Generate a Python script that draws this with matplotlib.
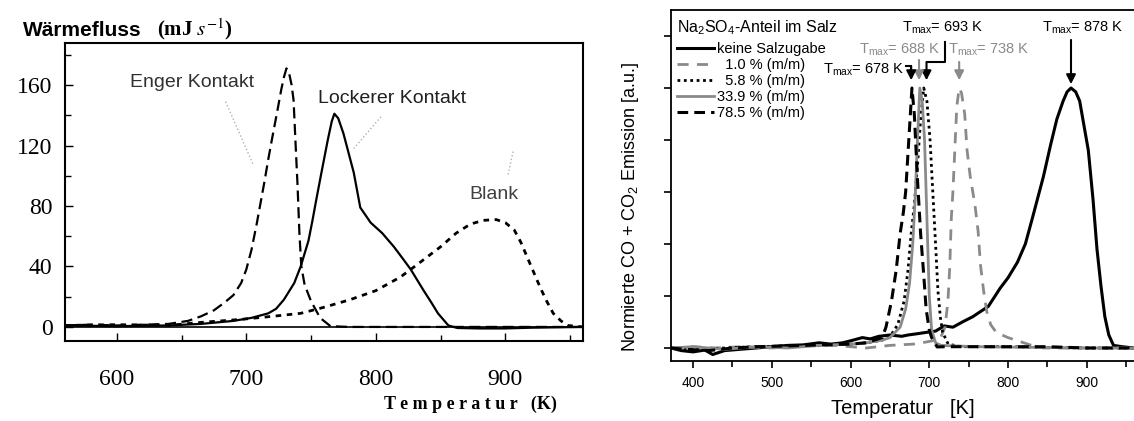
import numpy as np
import matplotlib
matplotlib.use("Agg")
import matplotlib.pyplot as plt
from matplotlib.ticker import MultipleLocator

plt.rcParams['font.family'] = ['Liberation Sans', 'DejaVu Sans']
plt.rcParams['mathtext.fontset'] = 'custom'
plt.rcParams['mathtext.rm'] = 'Liberation Sans'
plt.rcParams['mathtext.it'] = 'Liberation Sans:italic'
plt.rcParams['mathtext.bf'] = 'Liberation Sans:bold'

# ---- linkes Diagramm: Waermefluss (DSC) ----
enger_T = [560, 580, 600, 620, 640, 655, 665, 675, 683, 690, 696, 700, 704, 708, 711, 714,
           717, 720, 724, 727, 729, 731, 733, 735, 736.5, 738, 739.5, 741, 742.5, 745, 750, 757, 765, 780, 960]
enger_v = [1, 1.5, 1, 1.5, 2, 4, 7, 11, 16, 21, 29, 38, 51, 68, 82, 96,
           111, 125, 143, 157, 165, 171, 168, 160, 150, 122, 95, 62, 40, 28, 17, 6, 0.5, 0, 0]

locker_T = [560, 600, 640, 665, 690, 704, 717, 723, 729, 737, 742, 748, 751, 754, 758, 763, 766, 768,
            771, 775, 779, 783, 788, 796, 805, 814, 821, 827, 837, 843, 848, 853, 856, 863, 880, 900, 920, 960]
locker_v = [1, 0.5, 1, 2, 4, 6, 9, 12, 18, 29, 40, 57, 70, 84, 102, 124, 136, 141,
            138, 128, 115, 102, 79, 69, 62, 53, 45, 38, 24, 16, 9, 4, 1, -0.7, -1, -1, -0.5, 0]

blank_T = [560, 600, 640, 665, 696, 720, 742, 760, 780, 800, 819, 830, 850, 862, 873, 883, 893,
           900, 907, 912, 917, 922, 927, 932, 937, 943, 948, 960]
blank_v = [1, 1.5, 1, 3, 5, 7, 9, 13, 18, 24, 33, 40, 53, 62, 68, 70.5, 71,
           69, 64, 56, 46, 36, 26, 17, 9, 4, 1, 0]

# ---- rechtes Diagramm: normierte CO + CO2 Emission ----
keine_T = [372, 385, 400, 415, 425, 440, 460, 480, 500, 520, 540, 560, 575, 590, 603, 615, 625, 636,
           650, 665, 673, 685, 696, 708, 719, 730, 742, 755, 765, 775, 790, 800, 812, 822, 831, 845,
           854, 862, 870, 875, 880, 886, 891, 902, 908, 913, 918, 923, 928, 934, 945, 960]
keine_v = [0.0, -0.01, -0.015, -0.008, -0.025, -0.01, -0.005, 0.0, 0.005, 0.01, 0.012, 0.02, 0.015, 0.02,
           0.03, 0.04, 0.035, 0.045, 0.05, 0.045, 0.05, 0.055, 0.06, 0.065, 0.085, 0.08, 0.1, 0.12, 0.14,
           0.16, 0.23, 0.27, 0.33, 0.4, 0.5, 0.66, 0.78, 0.88, 0.95, 0.985, 1.0, 0.985, 0.95, 0.76, 0.57,
           0.38, 0.24, 0.12, 0.05, 0.01, 0.005, 0.0]

p10_T = [372, 400, 430, 460, 500, 540, 580, 620, 650, 680, 696, 708, 714.5, 720, 723.7, 726, 728, 730,
         733, 735, 738, 741, 745, 748, 752, 758, 762, 765, 769, 773, 778, 785, 800, 815, 830, 845, 900, 960]
p10_v = [0.0, 0.005, 0.0, 0.005, 0.0, 0.008, 0.01, 0.0, 0.01, 0.015, 0.023, 0.03, 0.04, 0.08, 0.18, 0.31,
         0.5, 0.6, 0.8, 0.93, 1.0, 0.98, 0.9, 0.76, 0.66, 0.55, 0.45, 0.32, 0.22, 0.14, 0.09, 0.06, 0.04,
         0.025, 0.01, 0.0, 0.0, 0.0]

p58_T = [372, 400, 440, 480, 520, 560, 600, 620, 640, 650, 660, 668, 673, 677, 681, 685, 689, 693,
         697, 701, 705, 708, 711, 714, 717, 724, 740, 800, 900, 960]
p58_v = [0.0, -0.005, 0.0, 0.005, 0.008, 0.01, 0.015, 0.02, 0.03, 0.043, 0.09, 0.18, 0.3, 0.44, 0.55,
         0.7, 0.88, 1.0, 0.95, 0.8, 0.57, 0.4, 0.22, 0.12, 0.06, 0.015, 0.005, 0.005, 0.0, 0.0]

p339_T = [372, 400, 440, 480, 520, 560, 600, 620, 640, 650, 663, 670, 675, 679, 682, 685, 688,
          691, 694, 697, 700, 703, 708, 715, 760, 900, 960]
p339_v = [0.0, 0.005, -0.005, 0.005, 0.0, 0.01, 0.015, 0.02, 0.03, 0.04, 0.08, 0.15, 0.25, 0.4, 0.57,
          0.8, 1.0, 0.95, 0.8, 0.5, 0.2, 0.07, 0.02, 0.01, 0.005, 0.0, 0.0]

p785_T = [372, 390, 420, 450, 480, 520, 560, 600, 620, 640, 645, 652, 658, 663, 667, 670, 674, 678,
          681, 685, 689, 693, 696, 700, 703, 710, 720, 780, 850, 900, 960]
p785_v = [0.0, -0.005, -0.01, 0.0, 0.005, 0.008, 0.012, 0.015, 0.02, 0.04, 0.08, 0.18, 0.3, 0.44, 0.52,
          0.6, 0.8, 1.0, 0.9, 0.65, 0.44, 0.28, 0.15, 0.07, 0.04, 0.004, 0.005, 0.005, 0.005, 0.0, 0.0]

legend_labels = ["keine Salzugabe", "  1.0 % (m/m)", "  5.8 % (m/m)", "33.9 % (m/m)", "78.5 % (m/m)"]
tmax_black = [878, 693, 678]
tmax_gray = [688, 738]

grau = "#8a8a8a"

fig = plt.figure(figsize=(11.34, 4.21), dpi=100)

# ================= links =================
ax1 = fig.add_axes([65/1134, 80/421, 518/1134, 298/421])
ax1.plot(enger_T, enger_v, color="black", lw=1.6, ls=(0, (5, 2.5)))
ax1.plot(locker_T, locker_v, color="black", lw=1.6)
ax1.plot(blank_T, blank_v, color="black", lw=2.0, ls=(0, (2, 2)))
ax1.axhline(0, color="black", lw=1.2)

ax1.set_xlim(560, 960)
ax1.set_ylim(-9.3, 187.8)
ax1.xaxis.set_major_locator(MultipleLocator(100))
ax1.xaxis.set_minor_locator(MultipleLocator(50))
ax1.yaxis.set_major_locator(MultipleLocator(40))
ax1.yaxis.set_minor_locator(MultipleLocator(20))
ax1.tick_params(which="both", direction="in", top=False, right=False, width=1)
ax1.tick_params(which="major", length=6)
ax1.tick_params(which="minor", length=4)
ax1.tick_params(axis="x", pad=20)
ax1.tick_params(axis="y", pad=9)
for lab in ax1.get_xticklabels() + ax1.get_yticklabels():
    lab.set_fontfamily("Liberation Serif")
    lab.set_fontsize(17)
for sp in ax1.spines.values():
    sp.set_linewidth(1.5)

# Beschriftungen mit gepunkteten Hinweislinien
ax1.text(610, 162, "Enger Kontakt", fontsize=14, color="#303030", ha="left", va="center")
ax1.text(755, 151.4, "Lockerer Kontakt", fontsize=14, color="#202020", ha="left", va="center")
ax1.text(872, 87.3, "Blank", fontsize=14, color="#404040", ha="left", va="center")
ax1.plot([684, 705], [149, 108], color="#b0b0b0", lw=1, ls=":")
ax1.plot([804, 783], [139, 118], color="#b0b0b0", lw=1, ls=":")
ax1.plot([906, 902], [116, 100], color="#b0b0b0", lw=1, ls=":")

fig.text(23/1134, 1 - 30/421, "Wärmefluss", fontsize=15, fontweight="bold",
         ha="left", va="center")
fig.text(157/1134, 1 - 29/421, r"(mJ $s^{-1}$)", fontsize=15, fontweight="bold",
         family="Liberation Serif", math_fontfamily="stix", ha="left", va="center")
fig.text(557/1134, 1 - 404/421, "T e m p e r a t u r   (K)", fontsize=13, fontweight="bold",
         family="Liberation Serif", ha="right", va="center")

# ================= rechts =================
ax2 = fig.add_axes([671/1134, 60/421, 463/1134, 351/421])
ax2.plot(keine_T, keine_v, color="black", lw=2.2, label=legend_labels[0])
ax2.plot(p10_T, p10_v, color=grau, lw=2.0, ls=(0, (4, 3)), label=legend_labels[1])
ax2.plot(p58_T, p58_v, color="black", lw=2.0, ls=(0, (1, 1.3)), label=legend_labels[2])
ax2.plot(p339_T, p339_v, color=grau, lw=2.0, label=legend_labels[3])
ax2.plot(p785_T, p785_v, color="black", lw=2.2, ls=(0, (3.5, 2)), label=legend_labels[4])

ax2.set_xlim(372, 960)
ax2.set_ylim(-0.05, 1.3)
ax2.xaxis.set_major_locator(MultipleLocator(100))
ax2.xaxis.set_minor_locator(MultipleLocator(50))
ax2.yaxis.set_major_locator(MultipleLocator(0.2))
ax2.set_yticklabels([])
ax2.tick_params(which="both", direction="out", top=False, right=False, width=1.2, labelsize=10)
ax2.tick_params(which="major", length=5)
ax2.tick_params(which="minor", length=4)
ax2.tick_params(axis="x", pad=6)
ax2.spines["right"].set_visible(False)
for sp in ["left", "bottom", "top"]:
    ax2.spines[sp].set_linewidth(1.3)

ax2.set_xlabel("Temperatur   [K]", fontsize=14.5, labelpad=6)
ax2.set_ylabel(r"Normierte CO + CO$_2$ Emission [a.u.]", fontsize=13)
ax2.yaxis.set_label_coords(-30/463, 0.44)

leg = ax2.legend(loc="upper left", bbox_to_anchor=(0.012, 0.975), frameon=False,
                 title=r"Na$_2$SO$_4$-Anteil im Salz", fontsize=10.5, title_fontsize=11.5,
                 handlelength=2.6, handletextpad=0.15, labelspacing=0.15, borderaxespad=0,
                 borderpad=0)
leg._legend_box.align = "left"
leg._legend_box.sep = 3

# T_max Pfeile
pfeil = dict(arrowstyle="-|>,head_length=0.55,head_width=0.28", lw=1.5, shrinkA=0, shrinkB=0)
ax2.text(895, 1.23, r"T$_{\rm max}$= %d K" % tmax_black[0], fontsize=10.5, ha="center", va="center")
ax2.annotate("", xy=(880, 1.015), xytext=(880, 1.185), arrowprops=dict(pfeil, color="black"))

ax2.text(717, 1.23, r"T$_{\rm max}$= %d K" % tmax_black[1], fontsize=10.5, ha="center", va="center")
ax2.plot([720, 720, 696.5], [1.177, 1.1, 1.1], color="black", lw=1.5)
ax2.annotate("", xy=(696.5, 1.03), xytext=(696.5, 1.1), arrowprops=dict(pfeil, color="black"))

ax2.text(662, 1.146, r"T$_{\rm max}$= %d K" % tmax_gray[0], fontsize=10.5, color=grau,
         ha="center", va="center")
ax2.annotate("", xy=(687, 1.03), xytext=(687, 1.108), arrowprops=dict(pfeil, color=grau))

ax2.text(776, 1.146, r"T$_{\rm max}$= %d K" % tmax_gray[1], fontsize=10.5, color=grau,
         ha="center", va="center")
ax2.annotate("", xy=(738, 1.03), xytext=(738, 1.1), arrowprops=dict(pfeil, color=grau))

ax2.text(669, 1.07, r"T$_{\rm max}$= %d K" % tmax_black[2], fontsize=10.5, ha="right", va="center")
ax2.plot([670, 677, 677], [1.085, 1.085, 1.06], color="black", lw=1.5)
ax2.annotate("", xy=(677, 1.03), xytext=(677, 1.085), arrowprops=dict(pfeil, color="black"))

fig.savefig("out.png", dpi=100)
